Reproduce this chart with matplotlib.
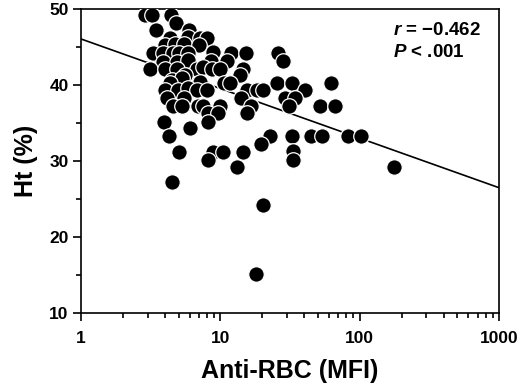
import matplotlib
matplotlib.use('Agg')
import matplotlib.pyplot as plt
from matplotlib.ticker import LogLocator, NullFormatter, MultipleLocator

plt.rcParams['font.family'] = ['Liberation Sans', 'DejaVu Sans']
plt.rcParams['font.weight'] = 'bold'
plt.rcParams['mathtext.fontset'] = 'custom'
plt.rcParams['mathtext.it'] = 'Liberation Sans:bold:italic'
plt.rcParams['mathtext.rm'] = 'Liberation Sans:bold'

# data
anti_rbc = [2.88, 3.25, 4.43, 4.81, 3.44, 5.99, 4.35, 5.80, 7.15, 8.03,
            4.01, 4.73, 5.43, 7.07, 3.30, 3.90, 4.55, 5.08, 5.89, 8.86,
            11.9, 15.2, 25.7, 28.3, 3.90, 4.86, 5.89, 8.58, 11.1, 3.13,
            4.01, 4.86, 6.77, 7.55, 8.76, 9.95, 14.5, 5.58, 13.7, 4.48,
            5.28, 4.35, 7.15, 10.6, 11.7, 25.4, 32.6, 62.3, 4.01, 4.99,
            5.89, 6.77, 7.99, 15.5, 18.2, 20.2, 40.6, 4.12, 5.43, 14.0,
            28.8, 34.0, 4.60, 5.28, 6.95, 7.55, 9.84, 16.5, 31.1, 52.0,
            66.6, 8.20, 9.67, 15.5, 3.94, 8.20, 6.06, 4.30, 22.7, 32.6,
            44.6, 53.5, 81.6, 102, 19.5, 5.08, 8.91, 10.5, 14.4, 32.9,
            8.20, 32.9, 13.1, 175, 4.48, 20.2, 18.0]
ht = [49.3, 49.3, 49.3, 48.2, 47.3, 47.3, 46.2, 46.4, 46.2, 46.2,
      45.3, 45.5, 45.5, 45.3, 44.3, 44.3, 44.3, 44.2, 44.3, 44.4,
      44.3, 44.3, 44.3, 43.2, 43.1, 43.1, 43.3, 43.2, 43.2, 42.2,
      42.2, 42.2, 42.2, 42.4, 42.2, 42.2, 42.2, 41.3, 41.3, 40.7,
      40.9, 40.3, 40.5, 40.3, 40.3, 40.3, 40.3, 40.3, 39.4, 39.4,
      39.6, 39.4, 39.4, 39.4, 39.4, 39.4, 39.4, 38.3, 38.3, 38.3,
      38.3, 38.3, 37.3, 37.3, 37.3, 37.3, 37.3, 37.3, 37.3, 37.3,
      37.3, 36.3, 36.3, 36.3, 35.2, 35.2, 34.4, 33.3, 33.3, 33.3,
      33.3, 33.3, 33.3, 33.3, 32.3, 31.2, 31.2, 31.2, 31.2, 31.4,
      30.2, 30.2, 29.2, 29.2, 27.2, 24.2, 15.2]

# regression line end points
fit_x = [1, 1000]
fit_y = [46.1, 26.5]

fig = plt.figure(figsize=(5.2, 3.92), dpi=100)
ax = fig.add_axes([0.156, 0.2015, 0.804, 0.7745])

ax.plot(fit_x, fit_y, color='black', lw=1.2, zorder=2)
ax.scatter(anti_rbc, ht, s=125, color='black', edgecolors='white',
           linewidths=0.9, zorder=3)

ax.set_xscale('log')
ax.set_xlim(1, 1000)
ax.set_ylim(10, 50)
ax.xaxis.set_major_locator(LogLocator(base=10))
ax.xaxis.set_minor_locator(LogLocator(base=10, subs=range(2, 10)))
ax.xaxis.set_minor_formatter(NullFormatter())
ax.set_xticks([1, 10, 100, 1000])
ax.set_xticklabels(['1', '10', '100', '1000'])
ax.yaxis.set_major_locator(MultipleLocator(10))
ax.yaxis.set_minor_locator(MultipleLocator(5))

for s in ax.spines.values():
    s.set_linewidth(1.2)
ax.tick_params(which='major', direction='out', length=6, width=1.2,
               labelsize=12.5, pad=3)
ax.tick_params(which='minor', direction='out', length=3.5, width=1.2)
ax.tick_params(axis='x', which='major', pad=7)

ax.set_xlabel('Anti-RBC (MFI)', fontsize=18, fontweight='bold', labelpad=9)
ax.set_ylabel('Ht (%)', fontsize=18, fontweight='bold', labelpad=8)

ax.text(0.746, 0.958, '$r$ = \u22120.462', transform=ax.transAxes,
        fontsize=13.5, fontweight='bold', va='top', ha='left')
ax.text(0.746, 0.885, '$P$ < .001', transform=ax.transAxes,
        fontsize=13.5, fontweight='bold', va='top', ha='left')

fig.savefig('out.png', dpi=100)
